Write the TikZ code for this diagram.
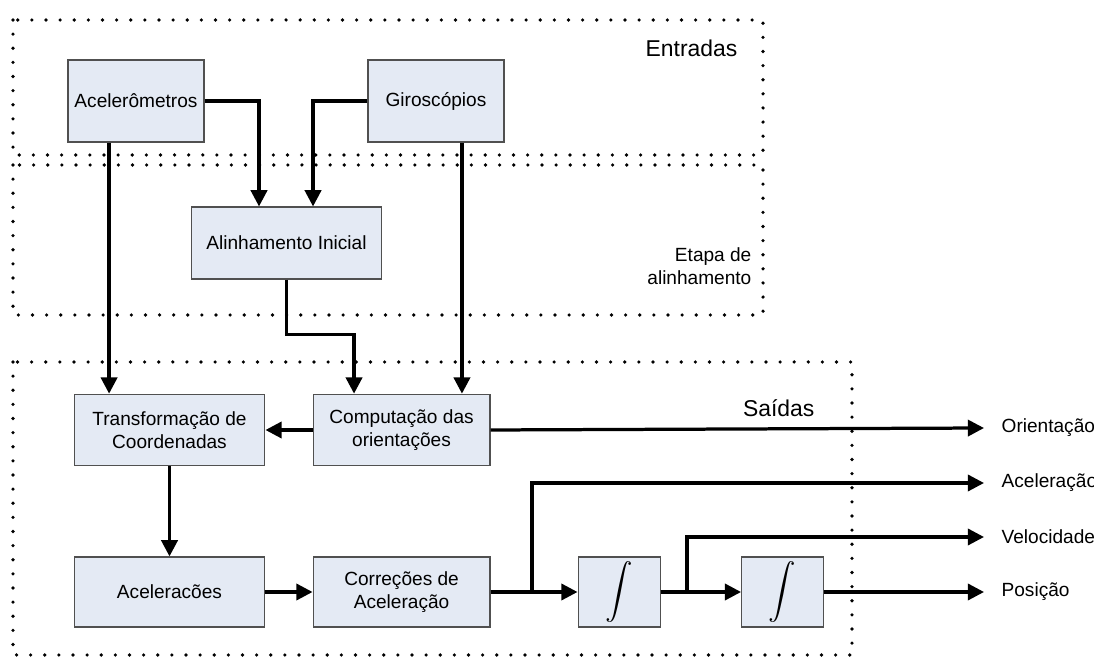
\documentclass[tikz,border=0pt]{standalone}
\usepackage{amsmath}
\usepackage{fontspec}
\setmainfont{Liberation Sans}
\usetikzlibrary{arrows.meta}
\definecolor{caixa}{HTML}{E4EAF4}
\definecolor{borda}{HTML}{505050}
\tikzset{
  bloco/.style={draw=borda, fill=caixa, line width=0.6pt, align=center, inner sep=0pt, font=\fontsize{10}{12}\selectfont},
  moldura/.style={-, line width=1.9pt, line cap=round, dash pattern=on 0pt off 7.4pt},
  saida/.style={anchor=west, inner xsep=8.4pt, inner ysep=0pt, font=\fontsize{10}{12}\selectfont},
  titulo/.style={anchor=east, inner sep=0pt, align=right}
}
\begin{document}
\begin{tikzpicture}[->,>={Triangle[length=8.5pt,width=8.5pt]},line width=1.7pt,x=0.524pt,y=-0.524pt]
\useasboundingbox (0,0) rectangle (1094,657);
% molduras das etapas
\draw[moldura] (13,20) rectangle (763,155);
\draw[moldura] (13,165) rectangle (763,315);
\draw[moldura] (13,362) rectangle (852,655);
\node[titulo, font=\fontsize{12}{14}\selectfont] (entradas) at (739,48) {Entradas};
\node[titulo, font=\fontsize{10}{12}\selectfont] (etapa) at (753,266) {Etapa de\\alinhamento};
\node[titulo, font=\fontsize{12}{14}\selectfont] (saidas) at (816,408) {Saídas};
% blocos
\node[bloco, minimum width=71.3pt, minimum height=43pt] (acc) at (136,101) {Acelerômetros};
\node[bloco, minimum width=71.3pt, minimum height=43pt] [node distance=157.2pt, right of=acc] (gyro) {Giroscópios};
\node[bloco, minimum width=100pt, minimum height=37.7pt] (alin) at (286.5,243) {Alinhamento Inicial};
\node[bloco, minimum width=100pt, minimum height=37.5pt] (transf) at (169.5,430) {Transformação de\\Coordenadas};
\node[bloco, minimum width=92.7pt, minimum height=37.5pt] [node distance=121.6pt, right of=transf] (comp) {Computação das\\orientações};
\node[bloco, minimum width=100pt, minimum height=36.7pt] (accs) at (169.5,592) {Aceleracões};
\node[bloco, minimum width=92.7pt, minimum height=36.7pt] [node distance=121.6pt, right of=accs] (corr) {Correções de\\Aceleração};
\node[bloco, minimum width=43pt, minimum height=36.7pt, font=\fontsize{14.5}{16}\selectfont] [node distance=114pt, right of=corr] (int1) {$\displaystyle\int$};
\node[bloco, minimum width=43pt, minimum height=36.7pt, font=\fontsize{14.5}{16}\selectfont] [node distance=85.7pt, right of=int1] (int2) {$\displaystyle\int$};
% saidas
\node[saida] (oOri) at (984,428) {Orientação};
\node[saida] (oAcc) at (984,483) {Aceleração};
\node[saida] (oVel) at (984,537) {Velocidade};
\node[saida] (oPos) at (984,592) {Posição};
\coordinate (b1) at (532,592);
\coordinate (b2) at (687,592);
% ligacoes
\draw (acc.east) -| ([xshift=-14.4pt]alin.north);
\draw (gyro.west) -| ([xshift=13.9pt]alin.north);
\draw ([xshift=-14.1pt]acc.south) -- ([xshift=-14.1pt]acc.south |- transf.north);
\draw ([xshift=13.6pt]gyro.south) -- ([xshift=13.6pt]gyro.south |- comp.north);
\draw (alin.south) -- ++(0,55) -| ([xshift=-24.9pt]comp.north);
\draw (comp.west) -- (transf.east);
\draw (transf.south) -- (accs.north);
\draw (accs.east) -- (corr.west);
\draw (corr.east) -- (int1.west);
\draw (int1.east) -- (int2.west);
\draw (comp.east) -- (oOri.west);
\draw (b1) |- (oAcc.west);
\draw (b2) |- (oVel.west);
\draw (int2.east) -- (oPos.west);
\end{tikzpicture}
\end{document}
